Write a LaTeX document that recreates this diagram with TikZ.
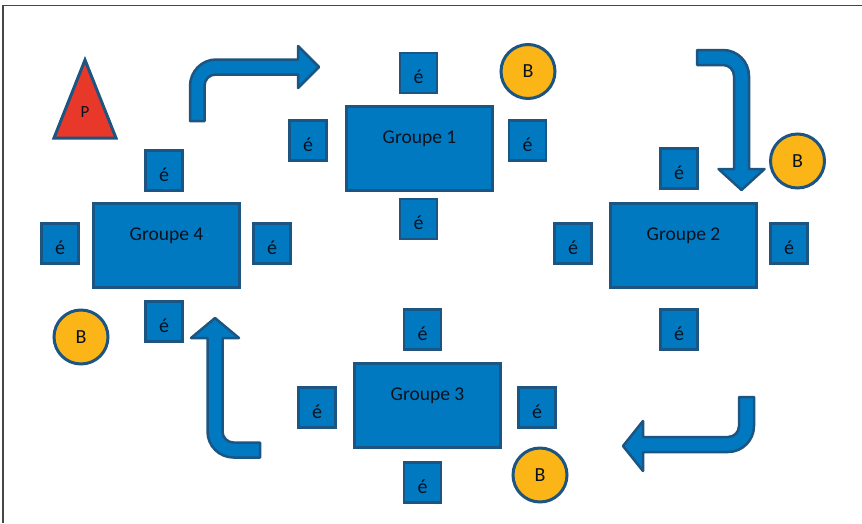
\documentclass[tikz,border=0pt]{standalone}
\usepackage{fontspec}
\setmainfont{Carlito}
\definecolor{tblue}{RGB}{0,121,193}
\definecolor{outl}{RGB}{28,84,130}
\definecolor{txt}{RGB}{10,18,30}
\definecolor{bfill}{RGB}{251,181,22}
\definecolor{pred}{RGB}{232,56,42}
\definecolor{framec}{RGB}{70,70,70}
\begin{document}
\begin{tikzpicture}[x=1pt,y=-1pt,
 tablebox/.style={rectangle, draw=outl, fill=tblue, line width=3pt, minimum width=146pt, minimum height=84pt, inner sep=0pt, text=txt, font=\fontsize{19.5}{19.5}\selectfont, text height=14pt, text depth=25pt},
 seat/.style={rectangle, draw=outl, fill=tblue, line width=2.5pt, minimum width=37pt, minimum height=40pt, inner sep=0pt, text=txt, font=\fontsize{20}{20}\selectfont, text height=21pt, text depth=0pt},
 ballon/.style={circle, draw=outl, fill=bfill, line width=3pt, minimum size=54pt, inner sep=0pt, text=txt, font=\fontsize{20}{20}\selectfont},
 bigarrow/.style={draw=outl, fill=tblue, line width=2.5pt, line join=round},
 prof/.style={draw=outl, fill=pred, line width=3pt, line join=miter},
]
\useasboundingbox (0,0) rectangle (862,523);
\draw[framec, line width=1.5pt] (3,523) -- (3,5.5) -- (862,5.5);

% teacher
\draw[prof] (85,60) -- (116,138) -- (54,138) -- cycle;
\node[text=txt, font=\fontsize{17}{17}\selectfont] (p) at (85,112) {P};

% tables
\node[tablebox] (g1) at (419.5,148.5) {Groupe 1};
\node[tablebox] (g2) at (683.5,245.5) {Groupe 2};
\node[tablebox] (g3) at (427.5,405.5) {Groupe 3};
\node[tablebox] (g4) at (166.5,245.5) {Groupe 4};

% seats
\node[seat] (s1t) at (418.5,73) {é};
\node[seat] (s1l) at (308,140.5) {é};
\node[seat] (s1r) at (527.5,140.5) {é};
\node[seat] (s1b) at (418.5,219) {é};

\node[seat] (s2t) at (679,168.5) {é};
\node[seat] (s2l) at (573,243.5) {é};
\node[seat] (s2r) at (789,243.5) {é};
\node[seat] (s2b) at (679,329.5) {é};

\node[seat] (s3t) at (422.5,329.5) {é};
\node[seat] (s3l) at (317,407.5) {é};
\node[seat] (s3r) at (537,407.5) {é};
\node[seat] (s3b) at (422.5,482.5) {é};

\node[seat] (s4t) at (164,170.5) {é};
\node[seat] (s4l) at (60,243.5) {é};
\node[seat] (s4r) at (272,243.5) {é};
\node[seat] (s4b) at (164,321.5) {é};

% B circles
\node[ballon] (b1) at (528,71.5) {B};
\node[ballon] (b2) at (797.5,161) {B};
\node[ballon] (b3) at (540,475) {B};
\node[ballon] (b4) at (81,337) {B};

% arrows
\draw[bigarrow] (190,121) -- (190,86) .. controls (190,71.6) and (201.6,59.5) .. (216,59.5)
  -- (298,59.5) -- (298,46) -- (319,67) -- (298,88) -- (298,74.5) -- (216,74.5)
  .. controls (209.4,74.5) and (204.5,79.4) .. (204.5,86) -- (204.5,121) -- cycle;

\draw[bigarrow] (697,50) -- (723,50) .. controls (737.4,50) and (749,61.6) .. (749,76)
  -- (749,169) -- (764.5,169) -- (741.5,190) -- (718.5,169) -- (734,169) -- (734,76)
  .. controls (734,69.9) and (729.1,65) .. (723,65) -- (697,65) -- cycle;

\draw[bigarrow] (739,397) -- (754,397) -- (754,426) .. controls (754,440.4) and (742.4,452) .. (728,452)
  -- (643,452) -- (643,471) -- (623,446) -- (643,421) -- (643,437) -- (728,437)
  .. controls (734.1,437) and (739,432.1) .. (739,426) -- cycle;

\draw[bigarrow] (260,442.5) -- (260,457.5) -- (233.5,457.5) .. controls (219.1,457.5) and (207.5,445.9) .. (207.5,431.5)
  -- (207.5,338) -- (191,338) -- (215,318) -- (239,338) -- (222.5,338) -- (222.5,431.5)
  .. controls (222.5,437.6) and (227.4,442.5) .. (233.5,442.5) -- cycle;
\end{tikzpicture}
\end{document}
